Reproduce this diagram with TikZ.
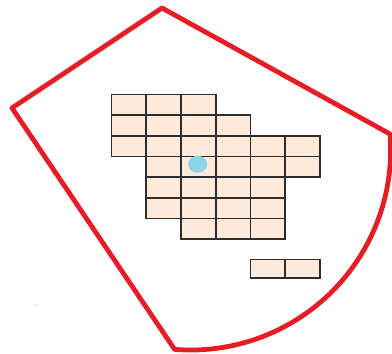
\documentclass[tikz,border=0pt]{standalone}
\definecolor{peach}{RGB}{253,234,218}
\definecolor{gridline}{RGB}{45,45,45}
\definecolor{bound}{RGB}{232,28,36}
\definecolor{spot}{RGB}{140,212,232}
\begin{document}
\begin{tikzpicture}[x=1pt,y=-1pt,
  cellbox/.style={draw=gridline,fill=peach,line width=1.6pt},
  boundary/.style={draw=bound,line width=4.8pt,line join=round,line cap=round}]
\useasboundingbox (0,0) rectangle (392,354);
% boundary
\draw[boundary] (12,108) -- (162,8) -- (390,134)
  arc[start angle=-4.6,end angle=94.6,radius=200] -- cycle;
% grid cells: row, first col, last col
\def\cw{34.75}\def\rh{20.7}
\foreach \r/\a/\b in {0/0/2,1/0/3,2/0/5,3/1/5,4/1/4,5/1/4,6/2/4}{
  \foreach \c in {\a,...,\b}{
    \draw[cellbox] ({111.5+\c*\cw},{94.3+\r*\rh}) rectangle ++(\cw,\rh);
  }
}
% separate pair
\foreach \c in {4,5}{
  \draw[cellbox] ({111.5+\c*\cw},259.3) rectangle ++(\cw,18.4);
}
% blue spot
\fill[spot] (197.7,164.3) ellipse [x radius=9.5pt,y radius=8.5pt];
% stray specks
\fill[bound!60] (35.5,305) circle (0.7pt);
\fill[bound!60] (329,292.5) circle (0.6pt);
\end{tikzpicture}
\end{document}
